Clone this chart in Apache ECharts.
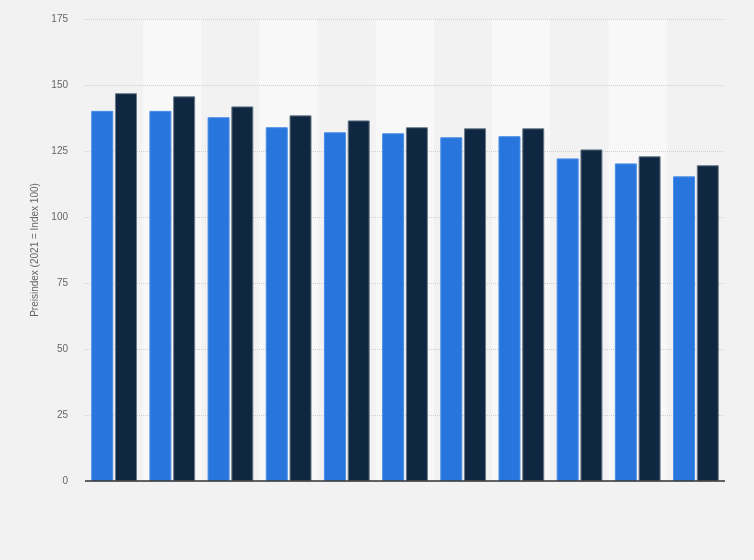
<!DOCTYPE html>
<html>
<head>
<meta charset="utf-8">
<script src="https://cdn.jsdelivr.net/npm/echarts@6/dist/echarts.min.js"></script>
<style>
html,body{margin:0;padding:0;background:#f2f2f2;}
#chart{width:754px;height:560px;}
</style>
</head>
<body>
<div id="chart"></div>
<script>
const categories = ['1','2','3','4','5','6','7','8','9','10','11'];
const seriesA = [140.2, 140.2, 137.8, 134.0, 132.1, 131.7, 130.2, 130.6, 122.2, 120.3, 115.4];
const seriesB = [146.9, 145.7, 141.9, 138.5, 136.6, 134.0, 133.6, 133.6, 125.6, 123.0, 119.6];
const yTicks = [0, 25, 50, 75, 100, 125, 150, 175];

const chart = echarts.init(document.getElementById('chart'));
chart.setOption({
  backgroundColor: '#f2f2f2',
  animation: false,
  grid: { left: 85, right: 29, top: 19, bottom: 79 },
  xAxis: {
    type: 'category',
    data: categories,
    z: 0,
    axisLabel: { show: false },
    axisTick: { show: false },
    axisLine: { show: false },
    splitArea: { show: true, areaStyle: { color: ['#f2f2f2', '#f8f8f8'] } }
  },
  yAxis: [{
    type: 'value',
    min: yTicks[0],
    max: yTicks[yTicks.length - 1],
    interval: 25,
    z: 1,
    name: 'Preisindex (2021 = Index 100)',
    nameLocation: 'middle',
    nameGap: 45,
    nameTextStyle: { color: '#666', fontSize: 10, fontFamily: 'Arial, Liberation Sans, sans-serif' },
    axisLabel: { color: '#666', fontSize: 10, margin: 17, fontFamily: 'Arial, Liberation Sans, sans-serif' },
    axisLine: { show: false },
    axisTick: { show: false },
    splitLine: { lineStyle: { color: '#cfcfcf', type: [1, 1], width: 1 } }
  }],
  series: [
    {
      type: 'bar',
      data: seriesA,
      barWidth: 22,
      barGap: '8%',
      z: 3,
      itemStyle: { color: '#2876dd', borderColor: '#4a8de6', borderWidth: 1 }
    },
    {
      type: 'bar',
      data: seriesB,
      barWidth: 22,
      z: 3,
      itemStyle: { color: '#0f2740', borderColor: '#6a7a8a', borderWidth: 1 }
    },
    {
      type: 'line',
      data: [],
      markLine: {
        silent: true,
        symbol: 'none',
        label: { show: false },
        lineStyle: { color: '#333', width: 1.5, type: 'solid' },
        data: [{ yAxis: 0 }]
      },
      z: 5
    }
  ]
});
</script>
</body>
</html>
